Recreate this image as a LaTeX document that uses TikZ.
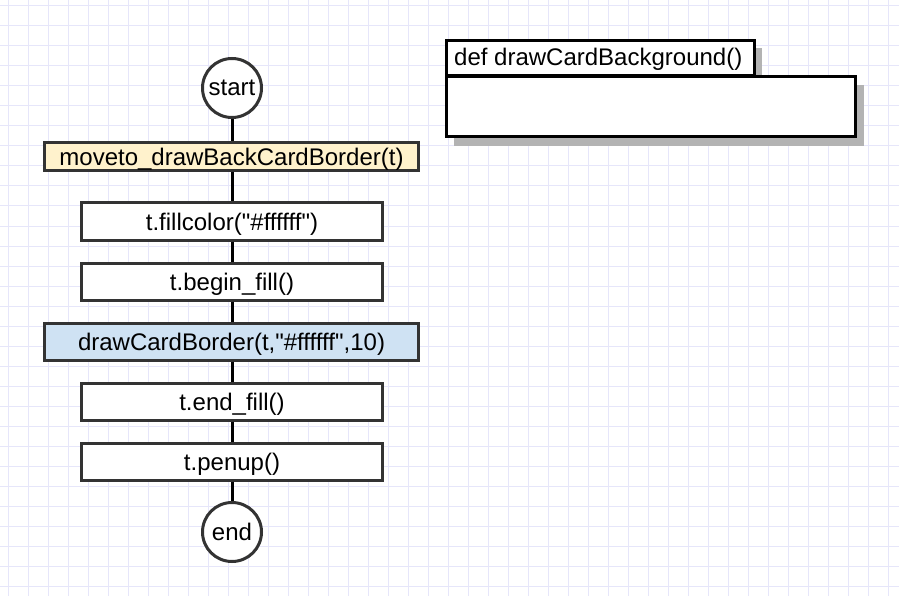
\documentclass[tikz,border=0pt]{standalone}
\usepackage{fontspec}
\setmainfont[Ligatures=TeXOff]{Liberation Sans}
\definecolor{gridc}{RGB}{230,230,250}
\definecolor{bordc}{RGB}{51,51,51}
\definecolor{yelc}{RGB}{255,242,204}
\definecolor{bluc}{RGB}{207,226,243}
\definecolor{shadc}{RGB}{179,179,179}
\tikzset{
  proc/.style={draw=bordc, line width=3pt, rectangle, inner sep=0pt, minimum height=37pt, text height=20pt, text depth=3pt, font=\fontsize{24}{27}\selectfont, fill=white},
  term/.style={draw=bordc, line width=3pt, circle, inner sep=0pt, minimum size=59pt, font=\fontsize{24}{27}\selectfont, fill=white},
  conn/.style={draw=black, line width=3pt},
  defbox/.style={draw=black, line width=3pt, rectangle, inner sep=0pt, fill=white}
}
\begin{document}
\begin{tikzpicture}[x=1pt,y=-1pt]
\useasboundingbox (0,0) rectangle (899,596);
\fill[white] (0,0) rectangle (899,596);
\foreach \gx in {8,28,...,888} \draw[gridc, line width=1pt] (\gx,0) -- (\gx,596);
\foreach \gy in {6,26,...,586} \draw[gridc, line width=1pt] (0,\gy) -- (899,\gy);

% flowchart
\node[term] (start) at (232,88) {start};
\node[proc, minimum width=374pt, minimum height=28pt, fill=yelc] (mv) at (231.5,157) {moveto\_drawBackCardBorder(t)};
\node[proc, minimum width=301pt] (fc) at (232,221.5) {t.fillcolor("\#ffffff")};
\node[proc, minimum width=301pt] (bf) at (232,281.5) {t.begin\_fill()};
\node[proc, minimum width=374pt, fill=bluc] (dcb) at (231.5,341.5) {drawCardBorder(t,"\#ffffff",10)};
\node[proc, minimum width=301pt] (ef) at (232,401.5) {t.end\_fill()};
\node[proc, minimum width=301pt] (pu) at (232,461.5) {t.penup()};
\node[term] (end) at (232,532) {end};

\draw[conn] (start) -- (start |- mv.north);
\draw[conn] (mv.south -| start) -- (start |- fc.north);
\draw[conn] (fc.south -| start) -- (start |- bf.north);
\draw[conn] (bf.south -| start) -- (start |- dcb.north);
\draw[conn] (dcb.south -| start) -- (start |- ef.north);
\draw[conn] (ef.south -| start) -- (start |- pu.north);
\draw[conn] (pu.south -| start) -- (end);

% def box
\fill[shadc] (453.5,48.5) rectangle (762,84);
\fill[shadc] (453.5,85) rectangle (864,146);
\node[defbox, minimum width=308pt, minimum height=35pt, anchor=north west] (tab) at (444.5,39.5) {};
\node[anchor=west, inner sep=0pt, font=\fontsize{24}{27}\selectfont] (tabtxt) at (454,59.5) {def drawCardBackground()};
\node[defbox, minimum width=409pt, minimum height=60pt, anchor=north west] (body) at (444.5,75.5) {};
\end{tikzpicture}
\end{document}
